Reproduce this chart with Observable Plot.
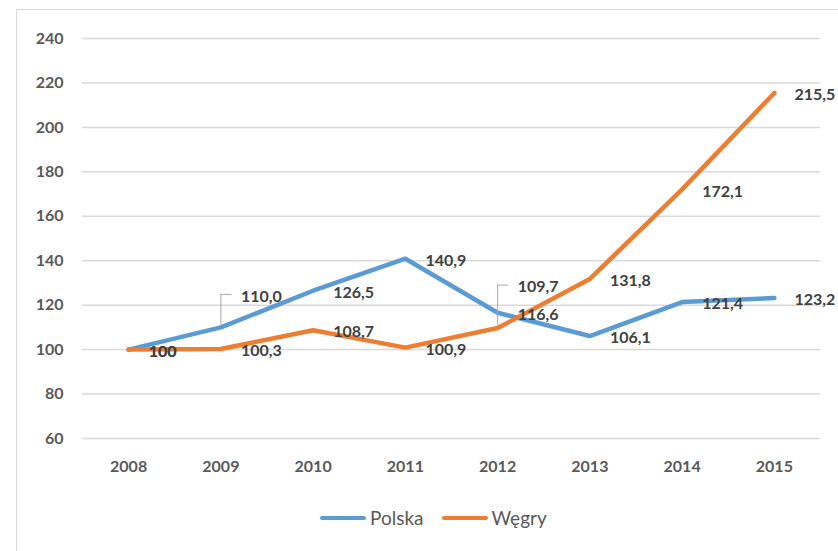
<!DOCTYPE html>
<html><head><meta charset="utf-8">
<script src="https://cdn.jsdelivr.net/npm/d3@7"></script>
<script src="https://cdn.jsdelivr.net/npm/@observablehq/plot@0.6"></script>
<style>
body{margin:0;width:838px;height:551px;overflow:hidden;background:#fff;font-family:Lato,"Open Sans",sans-serif;position:relative}
#frame{position:absolute;left:16px;top:9px;width:900px;height:600px;border:1px solid #d9d9d9;box-sizing:border-box}
#chart{position:absolute;left:0;top:0}
#legend{position:absolute;top:506px;left:320px;display:flex;align-items:center;font-size:19px;color:#595959}
.sw{display:inline-block;width:46px;height:4px;border-radius:2px;margin-right:4px}
.item{display:flex;align-items:center;margin-right:18px}
</style></head>
<body>
<div id="frame"></div>
<div id="chart"></div>
<div id="legend"></div>
<script>
const years = [2008, 2009, 2010, 2011, 2012, 2013, 2014, 2015];
const polska = [100, 110.0, 126.5, 140.9, 116.6, 106.1, 121.4, 123.2];
const wegry = [100, 100.3, 108.7, 100.9, 109.7, 131.8, 172.1, 215.5];
const seriesNames = ["Polska", "Węgry"];
const seriesColors = ["#5B9BD5", "#ED7D31"];
const yTicks = [60, 80, 100, 120, 140, 160, 180, 200, 220, 240];
// labels moved away from their points, with a leader line (pixel offset)
const labelMoves = [{series: "Polska", year: 2009, dy: -31}, {series: "Węgry", year: 2012, dy: -41}];

const rows = years.flatMap((yr, i) => [
  {series: "Polska", year: yr, value: polska[i]},
  {series: "Węgry", year: yr, value: wegry[i]}
]);
const fmt = d => d.year === years[0] ? String(d.value) : d.value.toFixed(1).replace(".", ",");
const isMoved = d => labelMoves.some(m => m.series === d.series && m.year === d.year);

const labelStyle = {fontSize: 16, fontWeight: "bold", fill: "#404040", textAnchor: "start", fontFamily: "Lato"};

const movedMarks = labelMoves.flatMap(m => {
  const r = rows.filter(d => d.series === m.series && d.year === m.year);
  return [
    Plot.ruleX(r, {x: "year", y1: "value", y2: "value", insetTop: m.dy - 2, insetBottom: 2, stroke: "#a6a6a6", strokeWidth: 1}),
    Plot.ruleY(r, {y: "value", x1: "year", x2: "year", dy: m.dy - 2, insetLeft: 0, insetRight: -11, stroke: "#a6a6a6", strokeWidth: 1}),
    Plot.text(r, {x: "year", y: "value", text: fmt, dx: 20, dy: m.dy, ...labelStyle})
  ];
});

const chart = Plot.plot({
  width: 838,
  height: 490,
  marginLeft: 82,
  marginRight: 18,
  marginTop: 38,
  marginBottom: 52,
  style: {fontFamily: "Lato", fontSize: "16px", color: "#595959", background: "transparent"},
  x: {type: "linear", domain: [2007.5, 2015.5], axis: null},
  y: {domain: [60, 240], axis: null},
  color: {domain: seriesNames, range: seriesColors},
  marks: [
    Plot.ruleY(yTicks, {stroke: "#d9d9d9", strokeWidth: 1.5}),
    Plot.axisY({ticks: yTicks, tickSize: 0, tickPadding: 19, label: null, fontWeight: "bold", fill: "#595959"}),
    Plot.axisX({ticks: years, tickSize: 0, tickPadding: 22, tickFormat: d => String(d), label: null, fontWeight: "bold", fill: "#595959"}),
    Plot.line(rows, {x: "year", y: "value", z: "series", stroke: "series", strokeWidth: 4.5, strokeLinejoin: "round", strokeLinecap: "round"}),
    Plot.text(rows.filter(d => !isMoved(d)), {x: "year", y: "value", text: fmt, dx: 20, dy: 2, ...labelStyle}),
    ...movedMarks
  ]
});
document.getElementById("chart").append(chart);

const legend = document.getElementById("legend");
seriesNames.forEach((s, i) => {
  const it = document.createElement("div");
  it.className = "item";
  it.innerHTML = `<span class="sw" style="background:${seriesColors[i]}"></span><span>${s}</span>`;
  legend.append(it);
});
</script>
</body></html>
